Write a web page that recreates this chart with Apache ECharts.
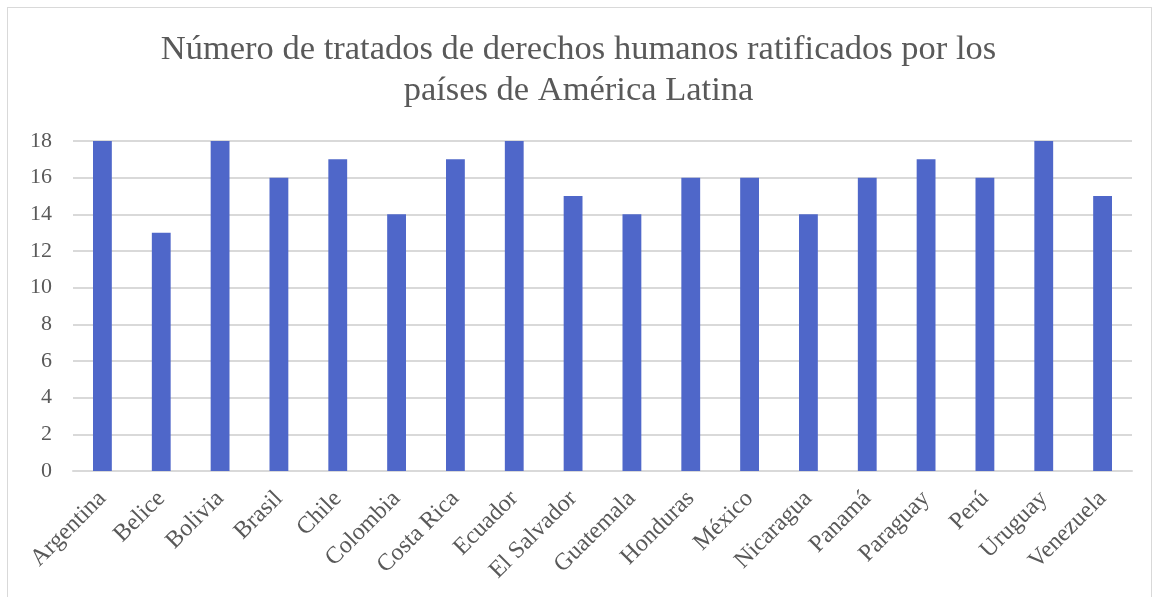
<!DOCTYPE html>
<html>
<head>
    <meta charset="UTF-8">
    <title>Tratados de derechos humanos</title>
    <script src="https://cdn.jsdelivr.net/npm/echarts@6/dist/echarts.min.js"></script>
    <style>
        body { margin: 0; background: #fff; }
        #frame { position: absolute; left: 7px; top: 7px; width: 1143px; height: 600px; border: 1px solid #d9d9d9; }
        #main { position: absolute; left: 0; top: 0; width: 1157px; height: 597px; }
    </style>
</head>
<body>
<div id="frame"></div>
<div id="main"></div>
<script type="text/javascript">
    // datos
    var paises = ['Argentina', 'Belice', 'Bolivia', 'Brasil', 'Chile', 'Colombia', 'Costa Rica', 'Ecuador',
        'El Salvador', 'Guatemala', 'Honduras', 'México', 'Nicaragua', 'Panamá', 'Paraguay', 'Perú', 'Uruguay', 'Venezuela'];
    var tratados = [18, 13, 18, 16, 17, 14, 17, 18, 15, 14, 16, 16, 14, 16, 17, 16, 18, 15];

    var myChart = echarts.init(document.getElementById('main'));
    var fuente = '"Liberation Serif", "Times New Roman", serif';

    var option = {
        animation: false,
        title: {
            text: 'Número de tratados de derechos humanos ratificados por los\npaíses de América Latina',
            left: 'center',
            top: 24,
            textStyle: {
                fontFamily: fuente,
                fontSize: 34.5,
                fontWeight: 'normal',
                color: '#595959',
                lineHeight: 41,
                align: 'center'
            }
        },
        grid: {
            left: 73,
            right: 25,
            top: 141,
            bottom: 126
        },
        xAxis: {
            type: 'category',
            data: paises,
            axisTick: { show: false },
            axisLine: { lineStyle: { color: '#d9d9d9', width: 2 } },
            axisLabel: {
                rotate: 45,
                interval: 0,
                margin: 24,
                fontFamily: fuente,
                fontSize: 24,
                color: '#595959'
            }
        },
        yAxis: {
            type: 'value',
            min: 0,
            max: 18,
            interval: 2,
            axisLine: { show: false },
            axisTick: { show: false },
            splitLine: { lineStyle: { color: '#d9d9d9', width: 2 } },
            axisLabel: {
                margin: 21,
                fontFamily: fuente,
                fontSize: 22,
                color: '#595959'
            }
        },
        series: [{
            type: 'bar',
            data: tratados,
            barWidth: '32%',
            itemStyle: { color: '#4f67c9' }
        }]
    };

    myChart.setOption(option);
</script>
</body>
</html>
